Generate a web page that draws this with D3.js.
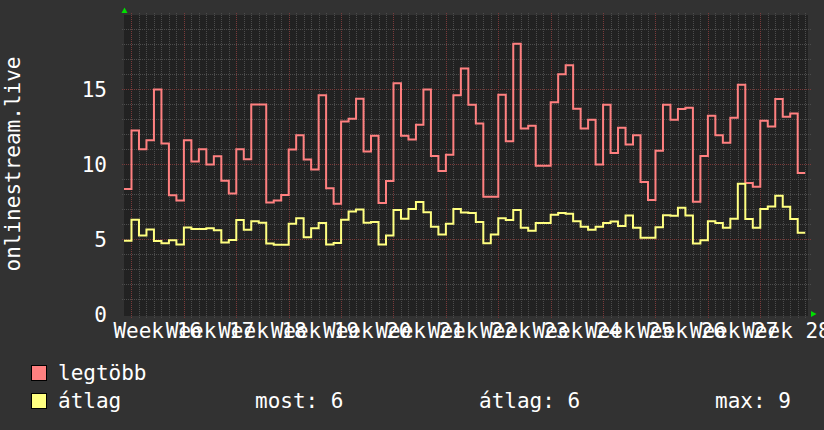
<!DOCTYPE html>
<html>
<head>
<meta charset="utf-8">
<script src="https://cdn.jsdelivr.net/npm/d3@7"></script>
<style>
  html, body { margin: 0; padding: 0; background: #323232; }
  svg { display: block; }
  text { font-family: "DejaVu Sans Mono", monospace; font-size: 21px; fill: #ffffff; }
</style>
</head>
<body>
<div id="chart"></div>
<script>
// daily values, first entry is the (partial) day before week 16
var firstDay = Date.UTC(2019, 3, 14);
var lastTime = Date.UTC(2019, 6, 14, 9);

var legtobb = [8.33, 12.23, 10.98, 11.58, 14.96, 11.36, 7.91, 7.56, 11.58, 10.16,
  10.98, 9.96, 10.51, 8.89, 8.04, 10.98, 10.31, 13.96, 13.96, 7.44,
  7.56, 7.93, 10.96, 11.92, 10.30, 9.63, 14.58, 8.38, 7.35, 12.84,
  13.02, 14.35, 10.83, 11.88, 7.40, 8.87, 15.38, 11.88, 11.63, 12.61,
  14.96, 10.54, 9.54, 10.61, 14.58, 16.37, 13.95, 12.70, 7.82, 7.82,
  14.62, 11.52, 18.01, 12.37, 12.55, 9.89, 9.89, 14.11, 15.98, 16.58,
  13.68, 12.37, 12.95, 9.96, 13.95, 10.74, 12.41, 11.30, 11.92, 8.80,
  7.60, 10.88, 13.95, 12.95, 13.66, 13.75, 7.49, 10.54, 13.22, 11.92,
  11.41, 13.09, 15.29, 8.73, 8.49, 12.88, 12.50, 14.33, 13.15, 13.37,
  9.40];

var atlag = [4.88, 6.28, 5.23, 5.64, 4.86, 4.72, 4.92, 4.63, 5.77, 5.66,
  5.66, 5.72, 5.59, 4.77, 4.94, 6.26, 5.61, 6.19, 6.08, 4.70,
  4.61, 4.61, 6.01, 6.39, 5.12, 5.72, 6.06, 4.63, 4.74, 6.28,
  6.84, 6.97, 6.08, 6.13, 4.63, 5.23, 6.93, 6.35, 7.00, 7.46,
  6.79, 5.81, 5.30, 6.01, 7.00, 6.77, 6.73, 6.13, 4.72, 5.30,
  6.39, 6.26, 6.93, 5.75, 5.55, 6.06, 6.06, 6.62, 6.73, 6.68,
  6.19, 5.81, 5.61, 5.81, 6.06, 6.17, 5.86, 6.57, 5.75, 5.08,
  5.08, 5.79, 6.59, 6.55, 7.08, 6.57, 4.70, 4.92, 6.19, 6.06,
  5.75, 6.35, 8.69, 6.33, 5.75, 7.00, 7.17, 7.89, 7.15, 6.33,
  5.41];

var weekLabels = ["Week 16", "Week 17", "Week 18", "Week 19", "Week 20", "Week 21", "Week 22",
  "Week 23", "Week 24", "Week 25", "Week 26", "Week 27", "Week 28"];
var yTicks = [0, 5, 10, 15];
var yLabel = "onlinestream.live";

var series = [
  { name: "legtöbb", color: "#ff8080", values: legtobb },
  { name: "átlag", color: "#ffff80", values: atlag }
];
var gprint = ["most: 6", "átlag: 6", "max: 9"];

var width = 824, height = 430;
var plotLeft = 124, plotRight = 808, plotTop = 14, plotBottom = 314;
var DAY = 864e5;
var minorColor = '#4c4c4c', majorColor = '#7a3a3a';

var x = d3.scaleUtc().domain([firstDay, lastTime]).range([plotLeft, plotRight]);
var y = d3.scaleLinear().domain([0, 20]).range([plotBottom, plotTop]);

var svg = d3.select('#chart').append('svg').attr('width', width).attr('height', height);

svg.append('rect').attr('width', width).attr('height', height).attr('fill', '#323232');
svg.append('rect').attr('x', plotLeft).attr('y', plotTop + 1)
    .attr('width', plotRight - plotLeft).attr('height', plotBottom - plotTop + 1).attr('fill', '#222222');

function px(v) { return Math.round(v) + 0.5; }

// minor grid
var grid = svg.append('g');
var mondays = d3.utcMonday.range(firstDay, lastTime);
var days = d3.utcDay.range(firstDay, lastTime).filter(function(d) {
    return x(d) > plotLeft + 1 && d.getUTCDay() != 1;
});
grid.selectAll('line.vday').data(days).enter().append('line')
    .attr('x1', function(d) { return px(x(d)); })
    .attr('x2', function(d) { return px(x(d)); })
    .attr('y1', plotTop - 1).attr('y2', plotBottom + 4)
    .attr('stroke', minorColor).attr('stroke-dasharray', '1,1');
grid.selectAll('line.hminor').data(d3.range(1, 20).filter(function(d) { return d % 5 != 0; })).enter().append('line')
    .attr('x1', plotLeft - 2).attr('x2', plotRight + 3)
    .attr('y1', function(d) { return px(y(d)); })
    .attr('y2', function(d) { return px(y(d)); })
    .attr('stroke', minorColor).attr('stroke-dasharray', '1,1');

// major grid
grid.selectAll('line.vweek').data(mondays).enter().append('line')
    .attr('x1', function(d) { return px(x(d)); })
    .attr('x2', function(d) { return px(x(d)); })
    .attr('y1', plotTop - 1).attr('y2', plotBottom + 5)
    .attr('stroke', majorColor).attr('stroke-dasharray', '1,1');
grid.selectAll('line.hmajor').data(yTicks.filter(function(d) { return d > 0; })).enter().append('line')
    .attr('x1', plotLeft - 2).attr('x2', plotRight + 3)
    .attr('y1', function(d) { return px(y(d)); })
    .attr('y2', function(d) { return px(y(d)); })
    .attr('stroke', majorColor).attr('stroke-dasharray', '1,1');

// y tick labels
svg.selectAll('text.ytick').data(yTicks).enter().append('text')
    .attr('x', 107).attr('y', function(d) { return y(d); }).attr('dy', '0.36em')
    .attr('text-anchor', 'end').text(function(d) { return d; });

// week labels, centred on the week
svg.selectAll('text.xtick').data(mondays).enter().append('text')
    .attr('x', function(d) { return x(new Date(+d + 3.5 * DAY)); })
    .attr('y', 338).attr('text-anchor', 'middle')
    .text(function(d, i) { return weekLabels[i]; });

svg.append('text').attr('transform', 'translate(20,164) rotate(-90)')
    .attr('text-anchor', 'middle').text(yLabel);

// lines
var line = d3.line()
    .x(function(d) { return x(d.t); })
    .y(function(d) { return y(d.v); })
    .curve(d3.curveStepAfter);

series.forEach(function(s) {
    var pts = s.values.map(function(v, i) { return { t: firstDay + i * DAY, v: v }; });
    pts.push({ t: firstDay + s.values.length * DAY, v: s.values[s.values.length - 1] });
    svg.append('path').datum(pts).attr('d', line)
        .attr('fill', 'none').attr('stroke', s.color).attr('stroke-width', 2)
        .attr('stroke-linejoin', 'miter');
});

// arrows
svg.append('path').attr('d', 'M121.5,13 L124.5,7.5 L127.5,13 Z').attr('fill', '#00e000');
svg.append('path').attr('d', 'M811,311 L816.5,314 L811,317 Z').attr('fill', '#00e000');

// legend
series.forEach(function(s, i) {
    var ly = 380 + i * 28;
    svg.append('rect').attr('x', 31.5).attr('y', ly - 14.5).attr('width', 15).attr('height', 15)
        .attr('fill', s.color).attr('stroke', '#000').attr('stroke-width', 1);
    svg.append('text').attr('x', 58).attr('y', ly).text(s.name);
});
var gx = [255, 479, 715];
gprint.forEach(function(g, i) {
    svg.append('text').attr('x', gx[i]).attr('y', 408).text(g);
});
</script>
</body>
</html>
